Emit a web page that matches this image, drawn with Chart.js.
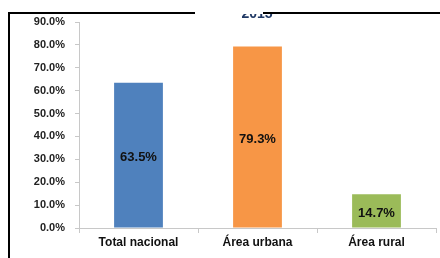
<!DOCTYPE html>
<html>
<head>
<meta charset="utf-8">
<script src="https://cdn.jsdelivr.net/npm/chart.js@4/dist/chart.umd.min.js"></script>
<style>
  html, body { margin: 0; padding: 0; background: #fff; }
  #wrap { width: 440px; height: 258px; }
</style>
</head>
<body>
<div id="wrap"><canvas id="myChart" width="440" height="258"></canvas></div>
<script>
var categories = ["Total nacional", "Área urbana", "Área rural"];
var values = [63.5, 79.3, 14.7];
var barColors = ["#4F81BD", "#F79646", "#9BBB59"];
var titleText = "2015";

// frame lines, cut-off title and the value labels inside the bars
var extras = {
  id: "extras",
  afterDraw: function(chart) {
    var ctx = chart.ctx;
    ctx.save();
    // title is cut at the top in the original, only its lower edge shows
    ctx.beginPath();
    ctx.rect(0, 14, 440, 244);
    ctx.clip();
    ctx.fillStyle = "#1F3864";
    ctx.font = "bold 14px 'Liberation Sans', Arial, sans-serif";
    ctx.textAlign = "center";
    ctx.textBaseline = "alphabetic";
    ctx.fillText(titleText, 257, 18);
    ctx.restore();

    ctx.save();
    ctx.fillStyle = "#000";
    ctx.fillRect(8, 12, 187, 2);
    ctx.fillRect(263, 12, 177, 2);
    ctx.fillRect(8, 12, 2, 246);

    var meta = chart.getDatasetMeta(0);
    ctx.fillStyle = "#111";
    ctx.font = "bold 13px 'Liberation Sans', Arial, sans-serif";
    ctx.textAlign = "center";
    ctx.textBaseline = "middle";
    meta.data.forEach(function(bar, i) {
      var mid = (bar.y + bar.base) / 2;
      ctx.fillText(values[i].toFixed(1) + "%", bar.x, mid + 2);
    });
    ctx.restore();
  }
};

var ctx = document.getElementById("myChart").getContext("2d");
var myChart = new Chart(ctx, {
  type: "bar",
  data: {
    labels: categories,
    datasets: [{
      data: values,
      backgroundColor: barColors,
      borderWidth: 0,
      categoryPercentage: 1,
      barPercentage: 0.41
    }]
  },
  options: {
    responsive: false,
    animation: false,
    layout: { padding: { top: 22, right: 4, left: 0, bottom: 0 } },
    plugins: { legend: { display: false }, tooltip: { enabled: false } },
    scales: {
      x: {
        afterFit: function(s) { s.height = 30; },
        grid: { drawOnChartArea: false, tickLength: 5, color: "#c8c8c8" },
        border: { color: "#c8c8c8" },
        ticks: {
          color: "#111",
          padding: 2,
          font: { family: "'Liberation Sans', Arial, sans-serif", size: 12, weight: "bold" }
        }
      },
      y: {
        min: 0,
        max: 90,
        afterFit: function(s) { s.width = 79; },
        grid: { drawOnChartArea: false, tickLength: 4, color: "#c8c8c8" },
        border: { color: "#c8c8c8" },
        ticks: {
          stepSize: 10,
          color: "#222",
          padding: 10,
          font: { family: "'Liberation Sans', Arial, sans-serif", size: 11, weight: "bold" },
          callback: function(v) { return v.toFixed(1) + "%"; }
        }
      }
    }
  },
  plugins: [extras]
});
</script>
</body>
</html>
